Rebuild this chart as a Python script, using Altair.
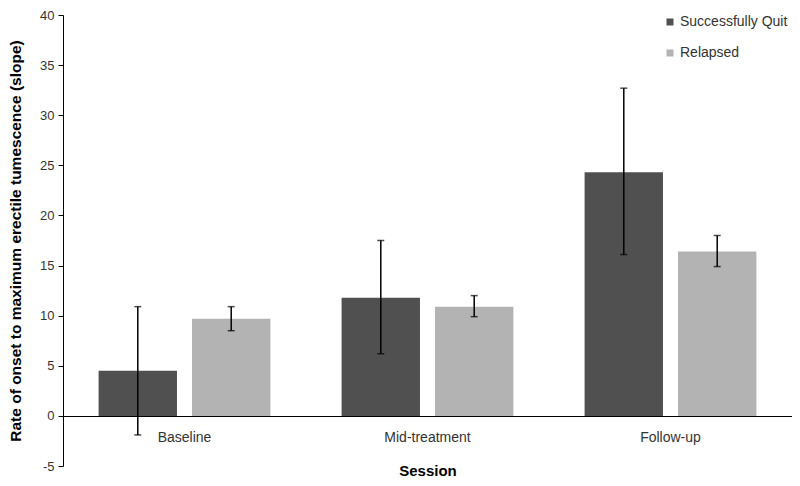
import altair as alt
import pandas as pd

sessions = ["Baseline", "Mid-treatment", "Follow-up"]
groups = ["Successfully Quit", "Relapsed"]
quit_vals = [4.5, 11.8, 24.3]
quit_lo = [-1.9, 6.2, 16.1]
quit_hi = [10.9, 17.5, 32.7]
rel_vals = [9.7, 10.9, 16.4]
rel_lo = [8.5, 9.9, 14.9]
rel_hi = [10.9, 12.0, 18.0]

rows = []
for i, s in enumerate(sessions):
    rows.append({"Session": s, "Group": groups[0], "value": quit_vals[i], "lo": quit_lo[i], "hi": quit_hi[i]})
    rows.append({"Session": s, "Group": groups[1], "value": rel_vals[i], "lo": rel_lo[i], "hi": rel_hi[i]})
df = pd.DataFrame(rows)

FONT = "Liberation Sans"
LBL = "#333333"

x = alt.X("Session:N", sort=sessions,
          scale=alt.Scale(paddingInner=0.293, paddingOuter=0.1465),
          axis=alt.Axis(title="Session", labelAngle=0, ticks=False, offset=-50,
                        domainColor="#000000", domainWidth=1.2,
                        labelFont=FONT, labelFontSize=14, labelColor=LBL,
                        labelPadding=14, titleFont=FONT, titleFontSize=15,
                        titleFontWeight="bold", titleColor="#000000", titlePadding=19))
xo = alt.XOffset("Group:N", sort=groups,
                 scale=alt.Scale(paddingInner=0.161, paddingOuter=0))
yscale = alt.Scale(domain=[-5, 40], nice=False)

bars = alt.Chart(df).mark_bar().encode(
    x=x,
    xOffset=xo,
    y=alt.Y("value:Q", scale=yscale,
            axis=alt.Axis(title="Rate of onset to maximum erectile tumescence (slope)",
                          values=list(range(-5, 41, 5)), grid=False,
                          labelExpr="datum.value + ''",
                          domainColor="#000000", tickColor="#000000", tickSize=5,
                          labelFont=FONT, labelFontSize=13, labelColor=LBL,
                          labelPadding=4, titleFont=FONT, titleFontSize=15.5,
                          titleFontWeight="bold", titleColor="#000000",
                          titleX=-40)),
    color=alt.Color("Group:N", sort=groups,
                    scale=alt.Scale(domain=groups, range=["#505050", "#b3b3b3"]),
                    legend=alt.Legend(title=None, orient="none", legendX=600, legendY=0,
                                      symbolType="square", symbolSize=49,
                                      symbolStrokeWidth=0, labelFont=FONT,
                                      labelFontSize=14, labelColor=LBL,
                                      rowPadding=17, labelOffset=3)),
)

rules = alt.Chart(df).mark_rule(color="#000000", strokeWidth=1.5).encode(
    x=alt.X("Session:N", sort=sessions),
    xOffset=alt.XOffset("Group:N", sort=groups),
    y=alt.Y("lo:Q", scale=yscale),
    y2="hi:Q",
)
cap_hi = alt.Chart(df).mark_tick(color="#000000", thickness=1.5, size=7).encode(
    x=alt.X("Session:N", sort=sessions),
    xOffset=alt.XOffset("Group:N", sort=groups),
    y=alt.Y("hi:Q", scale=yscale),
)
cap_lo = alt.Chart(df).mark_tick(color="#000000", thickness=1.5, size=7).encode(
    x=alt.X("Session:N", sort=sessions),
    xOffset=alt.XOffset("Group:N", sort=groups),
    y=alt.Y("lo:Q", scale=yscale),
)

chart = alt.layer(bars, rules, cap_hi, cap_lo).properties(
    width=729, height=451,
    autosize=alt.AutoSizeParams(type="none"),
    padding={"left": 55, "top": 7, "right": 0, "bottom": 12},
).configure_view(stroke=None)

chart.save("out.html", embed_options={"renderer": "svg", "actions": False})
